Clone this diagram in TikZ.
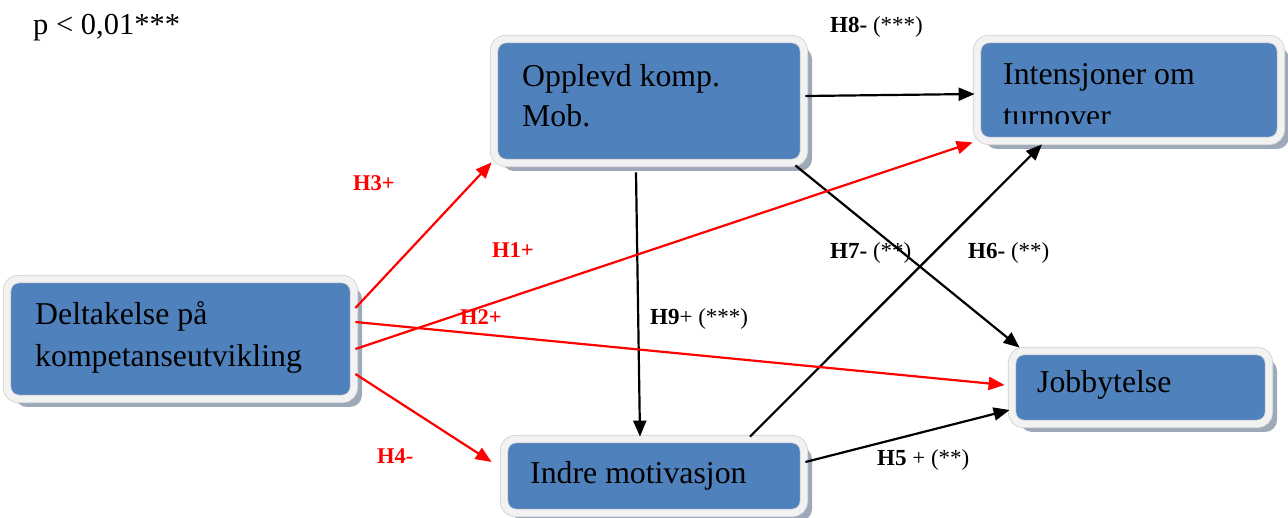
\documentclass[tikz,border=0pt]{standalone}
\usepackage{fontspec}
\setmainfont{Liberation Serif}
\usetikzlibrary{arrows.meta,shadows}
\definecolor{boxblue}{HTML}{4F81BD}
\definecolor{rimgray}{HTML}{F2F2F2}
\definecolor{edgegray}{HTML}{D0D0D0}
\definecolor{shadowgray}{HTML}{9DA8B8}
\begin{document}
\begin{tikzpicture}[x=1pt,y=-1pt,
  box/.style={rectangle, rounded corners=12pt, fill=boxblue, draw=edgegray,
    line width=0.8pt, double=rimgray, double distance=6.8pt, inner sep=0pt,
    drop shadow={shadow xshift=8pt, shadow yshift=-8pt, fill=shadowgray, opacity=1}},
  boxtxt/.style={anchor=base west, inner sep=0pt, font=\fontsize{31.8}{40}\selectfont},
  lab/.style={anchor=base west, inner sep=0pt, font=\fontsize{23}{27}\selectfont},
  redlab/.style={anchor=base west, inner sep=0pt, text=red, font=\fontsize{22.5}{27}\selectfont\bfseries},
  conn/.style={line width=2.2pt, -{Triangle[length=16pt,width=13pt]}},
  redconn/.style={conn, draw=red}]
\useasboundingbox (0,0) rectangle (1288,518);

% boxes
\node[box, minimum width=310pt, minimum height=124pt] (opp) at (649,101) {};
\node[box, minimum width=304pt, minimum height=102pt] (int) at (1129,90) {};
\node[box, minimum width=347pt, minimum height=120pt] (del) at (180.5,339) {};
\node[box, minimum width=300pt, minimum height=74pt] (ind) at (654,476) {};
\node[box, minimum width=257pt, minimum height=73pt] (job) at (1140.5,387.5) {};

% box texts
\node[boxtxt] (opp1) at (522,87) {Opplevd komp.};
\node[boxtxt] (opp2) at (522,127) {Mob.};
\node[boxtxt] (int1) at (1003,85) {Intensjoner om};
\begin{scope}
  \clip (977,39) rectangle (1281,124);
  \node[boxtxt] (int2) at (1003,127) {turnover};
\end{scope}
\node[boxtxt] (del1) at (35,325) {Deltakelse på};
\node[boxtxt] (del2) at (35,367) {kompetanseutvikling};
\node[boxtxt] (ind1) at (530,483) {Indre motivasjon};
\node[boxtxt] (job1) at (1037,393) {Jobbytelse};

% black connectors
\draw[conn] ([shift={(1,-5)}]opp.east) -- ([shift={(-2,4)}]int.west);
\draw[conn] ([shift={(-9,2)}]opp.south east) -- ([shift={(8,-3)}]job.north west);
\draw[conn] ([shift={(-13,9)}]opp.south) -- ([shift={(-14,-2)}]ind.north);
\draw[conn] ([shift={(96,-2)}]ind.north) -- ([shift={(-87,3)}]int.south);
\draw[conn] ([shift={(1,-14)}]ind.east) -- ([shift={(-2,22.5)}]job.west);

% red connectors
\draw[redconn] ([shift={(1,-31)}]del.east) -- ([shift={(-2,-1)}]opp.south west);
\draw[redconn] ([shift={(1,10)}]del.east) -- ([shift={(-4,1)}]int.south west);
\draw[redconn] ([shift={(1,-17)}]del.east) -- ([shift={(-7,-2.5)}]job.west);
\draw[redconn] ([shift={(1,35)}]del.east) -- ([shift={(-12,-14)}]ind.west);

% labels
\node[anchor=base west, inner sep=0pt, font=\fontsize{30.5}{34}\selectfont] (pval) at (33,35) {p < 0,01***};
\node[lab] (h8) at (830,33) {\textbf{H8-} (***)};
\node[lab] (h7) at (830,259) {\textbf{H7-} (**)};
\node[lab] (h6) at (968,259) {\textbf{H6-} (**)};
\node[lab] (h9) at (650,325) {\textbf{H9}+ (***)};
\node[lab] (h5) at (877,465) {\textbf{H5} + (**)};
\node[redlab] (h3) at (353,191) {H3+};
\node[redlab] (h1) at (492,258) {H1+};
\node[redlab] (h2) at (460,325) {H2+};
\node[redlab] (h4) at (377,464) {H4-};
\end{tikzpicture}
\end{document}
